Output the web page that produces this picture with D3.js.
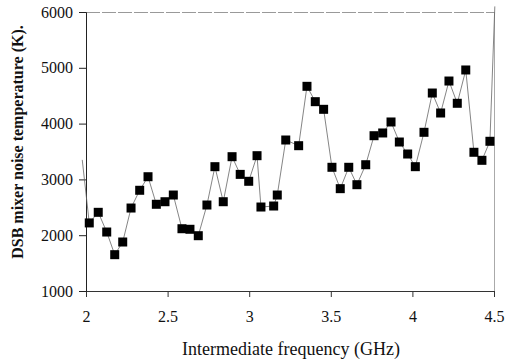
<!DOCTYPE html>
<html>
<head>
<meta charset="utf-8">
<script src="https://cdn.jsdelivr.net/npm/d3@7/dist/d3.min.js"></script>
<style>
  body { margin: 0; background: #fff; }
  svg { display: block; }
</style>
</head>
<body>
<svg width="507" height="364"></svg>
<script>
// measured points (GHz, K)
var freq = [2.02, 2.075, 2.127, 2.176, 2.225, 2.276, 2.329, 2.38, 2.431, 2.484,
            2.535, 2.588, 2.637, 2.688, 2.741, 2.79, 2.841, 2.895, 2.945, 2.997,
            3.048, 3.072, 3.15, 3.172, 3.224, 3.303, 3.354, 3.405, 3.456, 3.507,
            3.558, 3.61, 3.66, 3.714, 3.765, 3.818, 3.869, 3.92, 3.971, 4.018,
            4.071, 4.122, 4.173, 4.224, 4.275, 4.327, 4.377, 4.426, 4.475];
var temp = [2220, 2410, 2057, 1651, 1878, 2487, 2805, 3048, 2554, 2600,
            2720, 2116, 2106, 1991, 2541, 3228, 2600, 3407, 3090, 2966,
            3425, 2505, 2523, 2720, 3706, 3604, 4668, 4393, 4256, 3217,
            2834, 3217, 2905, 3263, 3783, 3832, 4029, 3670, 3455, 3228,
            3844, 4548, 4190, 4763, 4364, 4961, 3486, 3342, 3683];
// line continues past both ends of the plot without markers
var headFreq = 1.977, headTemp = 3350;
var tailFreq = 4.505, tailTemp = 6100;

var xTicks = [2, 2.5, 3, 3.5, 4, 4.5];
var yTicks = [1000, 2000, 3000, 4000, 5000, 6000];

var plotL = 86, plotR = 494, plotT = 12, plotB = 291;
var svg = d3.select("svg");
var x = d3.scaleLinear().domain([2, 4.5]).range([plotL, plotR]);
var y = d3.scaleLinear().domain([1000, 6000]).range([plotB, plotT]);

var pts = freq.map(function(f, i) { return [f, temp[i]]; });
var linePts = [[headFreq, headTemp]].concat(pts).concat([[tailFreq, tailTemp]]);

// frame top/right (light)
svg.append("line")
  .attr("x1", plotL).attr("x2", plotR).attr("y1", plotT + 0.5).attr("y2", plotT + 0.5)
  .style("stroke", "#999").style("stroke-width", 1).style("stroke-dasharray", "14,2");
svg.append("line")
  .attr("x1", plotR + 0.5).attr("x2", plotR + 0.5).attr("y1", plotT).attr("y2", plotB)
  .style("stroke", "#aaa").style("stroke-width", 1);

var font = "'Liberation Serif', 'Times New Roman', serif";

svg.append("g")
  .attr("transform", "translate(0," + plotB + ")")
  .call(d3.axisBottom(x).tickValues(xTicks).tickSize(6).tickPadding(14)
        .tickFormat(function(d) { return String(d); }))
  .call(function(g) {
    g.select(".domain").style("stroke", "#333");
    g.selectAll(".tick line").style("stroke", "#333");
    g.selectAll("text").style("font-family", font).style("font-size", "16px").style("fill", "#111");
  });

svg.append("g")
  .attr("transform", "translate(" + plotL + ",0)")
  .call(d3.axisLeft(y).tickValues(yTicks).tickSize(7).tickPadding(6)
        .tickFormat(d3.format("d")))
  .call(function(g) {
    g.select(".domain").style("stroke", "#222");
    g.selectAll(".tick line").style("stroke", "#222");
    g.selectAll("text").style("font-family", font).style("font-size", "16px").style("fill", "#111");
  });

var line = d3.line()
  .x(function(d) { return x(d[0]); })
  .y(function(d) { return y(d[1]); });

svg.append("path")
  .datum(linePts)
  .attr("d", line)
  .style("fill", "none")
  .style("stroke", "#666")
  .style("stroke-width", 0.8);

var sz = 9;
svg.selectAll("rect.pt")
  .data(pts)
  .enter()
  .append("rect")
  .attr("class", "pt")
  .attr("x", function(d) { return x(d[0]) - sz / 2; })
  .attr("y", function(d) { return y(d[1]) - sz / 2; })
  .attr("width", sz)
  .attr("height", sz)
  .style("fill", "#000");

svg.append("text")
  .attr("x", 291)
  .attr("y", 355)
  .attr("text-anchor", "middle")
  .style("font-family", font)
  .style("font-size", "18px")
  .style("fill", "#111")
  .text("Intermediate frequency (GHz)");

svg.append("text")
  .attr("transform", "translate(23,142) rotate(-90)")
  .attr("text-anchor", "middle")
  .style("font-family", font)
  .style("font-size", "16px")
  .style("font-weight", "bold")
  .style("fill", "#111")
  .text("DSB mixer noise temperature (K).");
</script>
</body>
</html>
